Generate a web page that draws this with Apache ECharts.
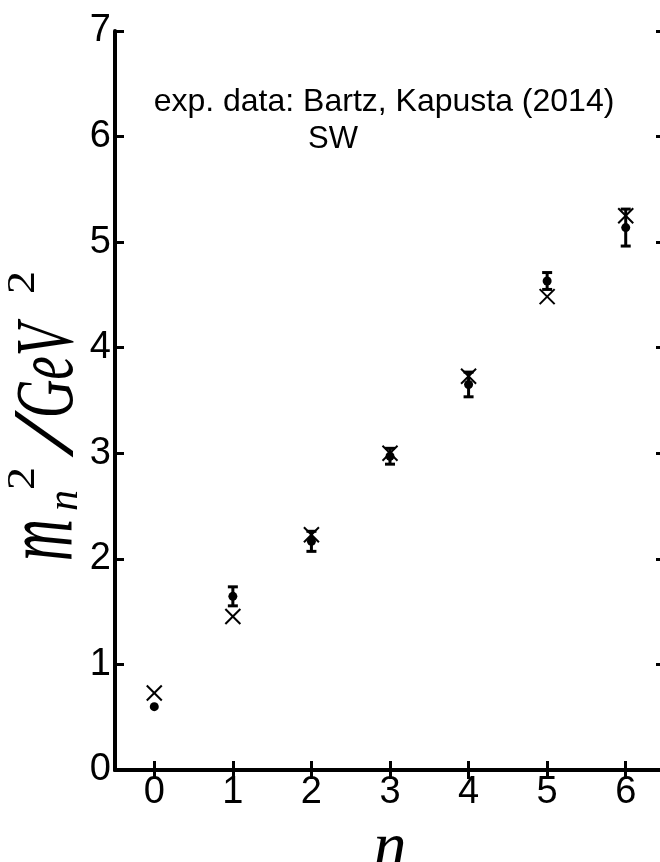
<!DOCTYPE html>
<html><head><meta charset="utf-8">
<script src="https://cdn.jsdelivr.net/npm/echarts@6/dist/echarts.min.js"></script>
<style>html,body{margin:0;padding:0;background:#fff}#c{width:660px;height:862px}</style>
</head><body><div id="c"></div>
<script>
// ---- data ----
const categories = ['0', '1', '2', '3', '4', '5', '6'];
const expValues = [0.600, 1.645, 2.166, 2.972, 3.652, 4.632, 5.138];
const expErrors = [0, 0.090, 0.095, 0.075, 0.117, 0.080, 0.175];
const swValues = [0.730, 1.454, 2.229, 3.000, 3.730, 4.484, 5.250];
const yTickLabels = ['0', '1', '2', '3', '4', '5', '6', '7'];
const annotationLines = ['exp. data: Bartz, Kapusta (2014)', 'SW'];
const yTitleParts = ['m', 'n', '2', '/', 'GeV', '2'];
const xTitle = 'n';

const chart = echarts.init(document.getElementById('c'), null, { renderer: 'canvas' });
const K = 0.3375;
function rotText(text, baseX, startY, size, sP, italic, sA) {
  return {
    type: 'text', x: baseX - sP * K * size, y: startY, rotation: Math.PI / 2,
    scaleX: sA || 1, scaleY: sP, silent: true,
    style: {
      text: text, font: (italic ? 'italic ' : '') + size + 'px "Liberation Serif"', fill: '#000',
      textAlign: 'left', textVerticalAlign: 'middle', align: 'left', verticalAlign: 'middle'
    }
  };
}

const axisLineStyle = { color: '#000', width: 4 };
const tickStyle = { show: true, inside: true, length: 9, lineStyle: { color: '#000', width: 3 } };
const labelFont = { fontFamily: '"Liberation Sans", Arial', fontSize: 38, color: '#000' };

const errData = categories.map((c, i) => [i, expValues[i] - expErrors[i], expValues[i] + expErrors[i]]);
const swData = categories.map((c, i) => [i, swValues[i]]);

const option = {
  animation: false,
  backgroundColor: '#fff',
  grid: { left: 115, top: 31, width: 550, height: 739, containLabel: false, outerBoundsMode: 'none' },
  xAxis: [
    {
      type: 'category', data: categories, position: 'bottom', boundaryGap: true,
      axisLine: { show: true, lineStyle: axisLineStyle },
      axisTick: Object.assign({ alignWithLabel: true }, tickStyle),
      axisLabel: Object.assign({ margin: 4 }, labelFont),
      splitLine: { show: false },
      name: xTitle, nameLocation: 'middle', nameGap: 38,
      nameTextStyle: { fontFamily: '"Liberation Serif"', fontStyle: 'italic', fontSize: 66, color: '#000' }
    },
    {
      type: 'category', data: categories, position: 'top', boundaryGap: true,
      axisLine: { show: true, lineStyle: axisLineStyle },
      axisTick: Object.assign({ alignWithLabel: true }, tickStyle),
      axisLabel: { show: false }, splitLine: { show: false }
    }
  ],
  yAxis: [
    {
      type: 'value', min: 0, max: 7, interval: 1, position: 'left',
      axisLine: { show: true, lineStyle: axisLineStyle },
      axisTick: tickStyle,
      axisLabel: Object.assign({ margin: 4, padding: [0, 0, 8, 0],
        formatter: (v) => yTickLabels[Math.round(v)] }, labelFont),
      splitLine: { show: false }
    },
    {
      type: 'value', min: 0, max: 7, interval: 1, position: 'right',
      axisLine: { show: true, lineStyle: axisLineStyle },
      axisTick: tickStyle,
      axisLabel: { show: false }, splitLine: { show: false }
    }
  ],
  series: [
    {
      type: 'custom', name: 'error', xAxisIndex: 0, yAxisIndex: 0,
      data: errData, encode: { x: 0, y: [1, 2] },
      renderItem: function (params, api) {
        const x = api.value(0), lo = api.value(1), hi = api.value(2);
        if (!(hi - lo > 0)) return null;
        const t = api.coord([x, hi]), b = api.coord([x, lo]);
        const hw = 5, st = { stroke: '#000', lineWidth: 3 };
        return {
          type: 'group', children: [
            { type: 'line', shape: { x1: t[0], y1: t[1], x2: b[0], y2: b[1] }, style: st },
            { type: 'line', shape: { x1: t[0] - hw, y1: t[1], x2: t[0] + hw, y2: t[1] }, style: st },
            { type: 'line', shape: { x1: b[0] - hw, y1: b[1], x2: b[0] + hw, y2: b[1] }, style: st }
          ]
        };
      }
    },
    {
      type: 'scatter', name: 'exp', xAxisIndex: 0, yAxisIndex: 0,
      data: expValues, symbol: 'circle', symbolSize: 9,
      itemStyle: { color: '#000', opacity: 1 }
    },
    {
      type: 'custom', name: 'SW', xAxisIndex: 0, yAxisIndex: 0,
      data: swData, encode: { x: 0, y: 1 },
      renderItem: function (params, api) {
        const p = api.coord([api.value(0), api.value(1)]);
        const h = 7.5, st = { stroke: '#000', lineWidth: 2 };
        return {
          type: 'group', children: [
            { type: 'line', shape: { x1: p[0] - h, y1: p[1] - h, x2: p[0] + h, y2: p[1] + h }, style: st },
            { type: 'line', shape: { x1: p[0] - h, y1: p[1] + h, x2: p[0] + h, y2: p[1] - h }, style: st }
          ]
        };
      }
    }
  ],
  graphic: [
    { type: 'text', x: 384, y: 102, silent: true,
      style: { text: annotationLines[0], font: '32px "Liberation Sans"', fill: '#000',
        textAlign: 'center', textVerticalAlign: 'middle', align: 'center', verticalAlign: 'middle' } },
    { type: 'text', x: 333, y: 139, silent: true,
      style: { text: annotationLines[1], font: '31px "Liberation Sans"', fill: '#000',
        textAlign: 'center', textVerticalAlign: 'middle', align: 'center', verticalAlign: 'middle' } },
    rotText(yTitleParts[0], 78, 561, 58, 1.7, true),
    rotText(yTitleParts[1], 80, 511, 42, 1.05, true),
    rotText(yTitleParts[2], 37, 490, 46, 0.87, false),
    rotText(yTitleParts[3], 78, 452, 66, 1.3, true, 1.8),
    rotText(yTitleParts[4], 78, 418, 53, 1.55, true),
    rotText(yTitleParts[5], 37, 294, 46, 0.87, false)
  ]
};
chart.setOption(option);
</script>
</body></html>
